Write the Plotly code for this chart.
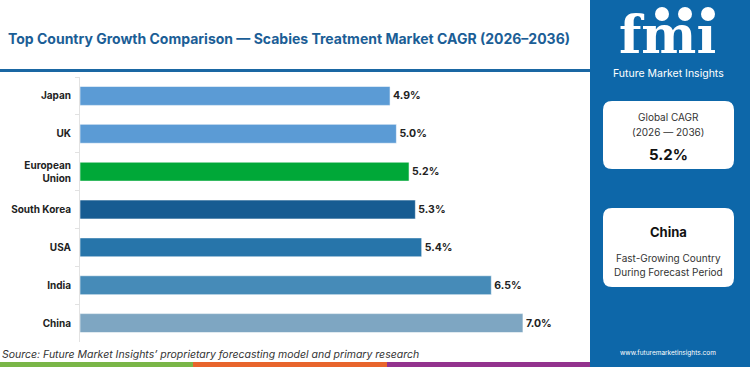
import plotly.graph_objects as go

categories = ["Japan", "UK", "European<br>Union", "South Korea", "USA", "India", "China"]
cagr_values = [4.9, 5.0, 5.2, 5.3, 5.4, 6.5, 7.0]
bar_colors = ["#5b9bd5", "#5b9bd5", "#00a838", "#175c92", "#2775aa", "#468bb8", "#7ea6c2"]
value_labels = [f"{v:.1f}%" for v in cagr_values]

W, H = 750, 367
L, R, T, B = 80, 172, 77, 25
PW, PH = W - L - R, H - T - B

def px(x):
    return (x - L) / PW

def py(y):
    return 1 - (y - T) / PH

def rrect(x0, y0, x1, y1, r, color):
    X0, X1 = px(x0), px(x1)
    Y0, Y1 = py(y0), py(y1)
    rx, ry = r / PW, r / PH
    path = (f"M {X0+rx},{Y0} L {X1-rx},{Y0} Q {X1},{Y0} {X1},{Y0-ry} "
            f"L {X1},{Y1+ry} Q {X1},{Y1} {X1-rx},{Y1} L {X0+rx},{Y1} "
            f"Q {X0},{Y1} {X0},{Y1+ry} L {X0},{Y0-ry} Q {X0},{Y0} {X0+rx},{Y0} Z")
    return dict(type="path", path=path, xref="paper", yref="paper",
                fillcolor=color, line=dict(width=0), layer="above")

def circ(cx, cy, r, color):
    return dict(type="circle", xref="paper", yref="paper",
                x0=px(cx - r), x1=px(cx + r), y0=py(cy + r), y1=py(cy - r),
                fillcolor=color, line=dict(width=0), layer="above")

fig = go.Figure()
fig.add_trace(go.Bar(
    x=cagr_values, y=categories, orientation="h",
    marker=dict(color=bar_colors, line=dict(color="rgba(255,255,255,0.55)", width=1)),
    width=0.5,
    text=value_labels, textposition="outside", cliponaxis=False,
    textfont=dict(family="Inter", size=10.5, color="#222222", weight="bold"),
    hoverinfo="skip",
))

shapes = [
    dict(type="rect", xref="paper", yref="paper", x0=px(590), x1=px(750), y0=py(0), y1=py(367),
         fillcolor="#0d67a9", line=dict(width=0), layer="below"),
    dict(type="line", xref="paper", yref="paper", x0=px(0), x1=px(590), y0=py(70.5), y1=py(70.5),
         line=dict(color="#1a67a3", width=3)),
    dict(type="rect", xref="paper", yref="paper", x0=px(0), x1=px(193), y0=py(362), y1=py(367),
         fillcolor="#7ab648", line=dict(width=0)),
    dict(type="rect", xref="paper", yref="paper", x0=px(193), x1=px(387), y0=py(362), y1=py(367),
         fillcolor="#e8642c", line=dict(width=0)),
    dict(type="rect", xref="paper", yref="paper", x0=px(387), x1=px(590), y0=py(362), y1=py(367),
         fillcolor="#93328e", line=dict(width=0)),
    rrect(603, 101, 734, 169, 9, "#ffffff"),
    rrect(603, 208, 734, 287, 9, "#ffffff"),
    circ(662, 14, 7, "#ffffff"),
    circ(685, 14, 7, "#ffffff"),
    circ(708, 14, 7, "#ffffff"),
]

def txt(x, y, text, size, color, bold=False, italic=False, anchor="center", family="Inter"):
    return dict(x=px(x), y=py(y), xref="paper", yref="paper", text=text, showarrow=False,
                xanchor=anchor, yanchor="middle",
                font=dict(family=family, size=size, color=color,
                          weight="bold" if bold else "normal",
                          style="italic" if italic else "normal"))

annotations = [
    txt(6, 38, "Top Country Growth Comparison — Scabies Treatment Market CAGR (2026–2036)",
        14, "#1b5e96", bold=True, anchor="left"),
    txt(0, 354, "Source: Future Market Insights’ proprietary forecasting model and primary research",
        10.5, "#333333", italic=True, anchor="left"),
    txt(667, 34, "fmı", 52, "#ffffff", bold=True, family="DejaVu Serif"),
    txt(668, 73, "Future Market Insights", 10.5, "#ffffff"),
    txt(668, 117, "Global CAGR", 10, "#333333"),
    txt(668, 132, "(2026 — 2036)", 10, "#333333"),
    txt(668, 154, "5.2%", 15, "#111111", bold=True),
    txt(668, 232, "China", 13, "#111111", bold=True),
    txt(668, 258, "Fast-Growing Country", 10, "#333333"),
    txt(668, 272, "During Forecast Period", 10, "#333333"),
    txt(668, 353, "www.futuremarketinsights.com", 6.5, "#ffffff"),
]

fig.update_layout(
    width=W, height=H,
    margin=dict(l=L, r=R, t=T, b=B, autoexpand=False),
    paper_bgcolor="#ffffff", plot_bgcolor="#ffffff",
    showlegend=False,
    shapes=shapes, annotations=annotations,
    xaxis=dict(range=[0, 7.87], showgrid=False, zeroline=False, showticklabels=False,
               showline=False, fixedrange=True, automargin=False),
    yaxis=dict(autorange="reversed", showgrid=False, zeroline=False,
               showline=True, linecolor="#e2e2e2", linewidth=1,
               ticks="outside", tickson="boundaries", ticklen=4, tickcolor="#e2e2e2",
               tickfont=dict(family="Inter", size=10, color="#222222", weight="bold"),
               ticklabelstandoff=6, fixedrange=True, automargin=False),
    font=dict(family="Inter"),
)

fig.write_html("out.html")
